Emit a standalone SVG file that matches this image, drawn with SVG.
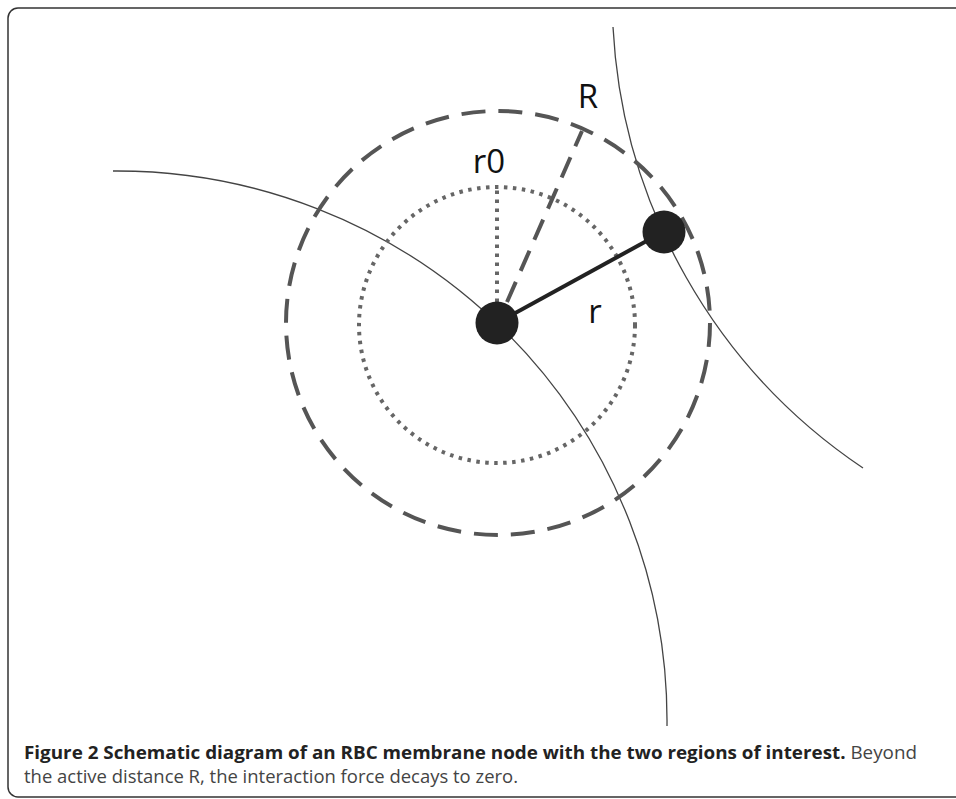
<svg xmlns="http://www.w3.org/2000/svg" width="956" height="799" viewBox="0 0 956 799">
  <style>
    .frame { fill: none; stroke: #333; stroke-width: 1.5; }
    .membrane { fill: none; stroke: #444; stroke-width: 1.3; }
    .dashed { fill: none; stroke: #555; stroke-width: 4; stroke-dasharray: 24 13; }
    .dotted { fill: none; stroke: #666; stroke-width: 4; stroke-dasharray: 3.5 5.5; }
    .bond { fill: none; stroke: #222; stroke-width: 4; }
    .node { fill: #222; }
    .lbl { font-family: "Open Sans", "DejaVu Sans", sans-serif; font-size: 33px; fill: #111; text-anchor: middle; }
    .cap { font-family: "Open Sans", "DejaVu Sans", sans-serif; font-size: 17.5px; fill: #444; }
    .capb { font-weight: bold; fill: #222; }
  </style>
  <rect width="956" height="799" fill="#fff"/>
  <rect class="frame" x="8" y="8" width="970" height="789" rx="10" ry="10"/>

  <g id="membranes">
    <path class="membrane" d="M113,171 A550,550 0 0 1 667,726"/>
    <path class="membrane" d="M613,27 A567,567 0 0 0 863,468"/>
  </g>

  <g id="regions">
    <circle id="region-R" class="dashed" cx="498" cy="323" r="212"/>
    <circle id="region-r0" class="dotted" cx="497" cy="325" r="138"/>
  </g>

  <g id="connectors">
    <line class="dotted" x1="497" y1="302" x2="497" y2="188"/>
    <line class="dashed" x1="507" y1="302" x2="582" y2="131" style="stroke-dasharray:22 12"/>
    <line class="bond" x1="497" y1="323" x2="663" y2="232"/>
  </g>

  <g id="node-center">
    <circle class="node" cx="497" cy="323" r="21.5"/>
  </g>
  <g id="node-neighbor">
    <circle class="node" cx="664" cy="232" r="21.5"/>
  </g>

  <g id="labels">
    <text class="lbl" x="588" y="108">R</text>
    <text class="lbl" x="489" y="173">r0</text>
    <text class="lbl" x="595" y="323">r</text>
  </g>

  <g id="caption">
    <text class="cap" x="24" y="759" textLength="893" lengthAdjust="spacingAndGlyphs"><tspan class="capb">Figure 2 Schematic diagram of an RBC membrane node with the two regions of interest.</tspan> Beyond</text>
    <text class="cap" x="24" y="783" textLength="494" lengthAdjust="spacingAndGlyphs">the active distance R, the interaction force decays to zero.</text>
  </g>
</svg>
